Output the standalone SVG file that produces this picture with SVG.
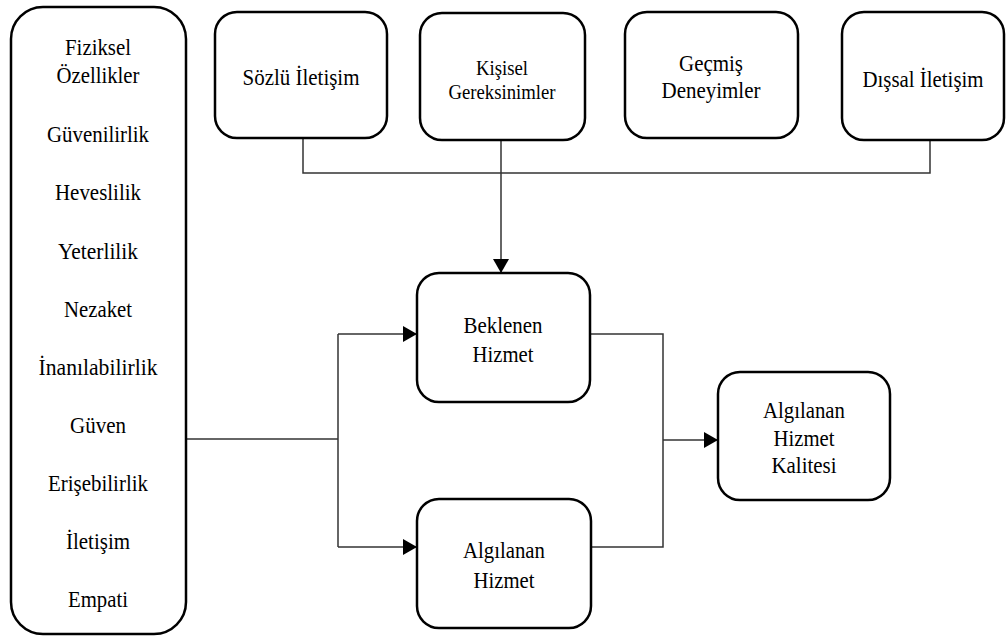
<svg xmlns="http://www.w3.org/2000/svg" width="1007" height="637" viewBox="0 0 1007 637">
  <defs>
    <marker id="arrow" viewBox="0 0 14 16" refX="14" refY="8" markerWidth="14" markerHeight="16" markerUnits="userSpaceOnUse" orient="auto">
      <path d="M0,0 L14,8 L0,16 Z" fill="#000000"/>
    </marker>
  </defs>

  <rect width="1007" height="637" fill="#ffffff"/>

  <!-- connectors -->
  <g id="connectors" fill="none" stroke="#333333" stroke-width="1.5">
    <polyline points="303,138 303,173 930,173 930,140"/>
    <line x1="501" y1="140" x2="501" y2="273" marker-end="url(#arrow)"/>
    <polyline points="186,439 338,439"/>
    <polyline points="338,334 338,547"/>
    <line x1="338" y1="334" x2="417" y2="334" marker-end="url(#arrow)"/>
    <line x1="338" y1="547" x2="417" y2="547" marker-end="url(#arrow)"/>
    <polyline points="590,334 663,334 663,547 591,547"/>
    <line x1="663" y1="440" x2="718" y2="440" marker-end="url(#arrow)"/>
  </g>

  <g id="boyutlar">
    <rect x="11" y="7" width="175" height="627" rx="32" fill="#ffffff" stroke="#000000" stroke-width="2.5"/>
    <text x="98" y="55" font-family="Liberation Serif" font-size="24" text-anchor="middle" textLength="66" lengthAdjust="spacingAndGlyphs">Fiziksel</text>
    <text x="98" y="83" font-family="Liberation Serif" font-size="24" text-anchor="middle" textLength="83" lengthAdjust="spacingAndGlyphs">Özellikler</text>
    <text x="98" y="142" font-family="Liberation Serif" font-size="24" text-anchor="middle" textLength="102" lengthAdjust="spacingAndGlyphs">Güvenilirlik</text>
    <text x="98" y="200" font-family="Liberation Serif" font-size="24" text-anchor="middle" textLength="86" lengthAdjust="spacingAndGlyphs">Heveslilik</text>
    <text x="98" y="259" font-family="Liberation Serif" font-size="24" text-anchor="middle" textLength="80" lengthAdjust="spacingAndGlyphs">Yeterlilik</text>
    <text x="98" y="317" font-family="Liberation Serif" font-size="24" text-anchor="middle" textLength="68" lengthAdjust="spacingAndGlyphs">Nezaket</text>
    <text x="98" y="375" font-family="Liberation Serif" font-size="24" text-anchor="middle" textLength="119" lengthAdjust="spacingAndGlyphs">İnanılabilirlik</text>
    <text x="98" y="433" font-family="Liberation Serif" font-size="24" text-anchor="middle" textLength="56" lengthAdjust="spacingAndGlyphs">Güven</text>
    <text x="98" y="491" font-family="Liberation Serif" font-size="24" text-anchor="middle" textLength="100" lengthAdjust="spacingAndGlyphs">Erişebilirlik</text>
    <text x="98" y="549" font-family="Liberation Serif" font-size="24" text-anchor="middle" textLength="64" lengthAdjust="spacingAndGlyphs">İletişim</text>
    <text x="98" y="607" font-family="Liberation Serif" font-size="24" text-anchor="middle" textLength="60" lengthAdjust="spacingAndGlyphs">Empati</text>
  </g>

  <g id="sozlu-iletisim">
    <rect x="215" y="12" width="172" height="126" rx="22" fill="#ffffff" stroke="#000000" stroke-width="2.5"/>
    <text x="301" y="85" font-family="Liberation Serif" font-size="24" text-anchor="middle" textLength="117" lengthAdjust="spacingAndGlyphs">Sözlü İletişim</text>
  </g>

  <g id="kisisel-gereksinimler">
    <rect x="420" y="13" width="165" height="127" rx="22" fill="#ffffff" stroke="#000000" stroke-width="2.5"/>
    <text x="502" y="75" font-family="Liberation Serif" font-size="21" text-anchor="middle" textLength="52" lengthAdjust="spacingAndGlyphs">Kişisel</text>
    <text x="502" y="99" font-family="Liberation Serif" font-size="21" text-anchor="middle" textLength="107" lengthAdjust="spacingAndGlyphs">Gereksinimler</text>
  </g>

  <g id="gecmis-deneyimler">
    <rect x="625" y="12" width="173" height="126" rx="22" fill="#ffffff" stroke="#000000" stroke-width="2.5"/>
    <text x="711" y="71" font-family="Liberation Serif" font-size="24" text-anchor="middle" textLength="64" lengthAdjust="spacingAndGlyphs">Geçmiş</text>
    <text x="711" y="98" font-family="Liberation Serif" font-size="24" text-anchor="middle" textLength="99" lengthAdjust="spacingAndGlyphs">Deneyimler</text>
  </g>

  <g id="dissal-iletisim">
    <rect x="842" y="12" width="162" height="128" rx="22" fill="#ffffff" stroke="#000000" stroke-width="2.5"/>
    <text x="923" y="87" font-family="Liberation Serif" font-size="24" text-anchor="middle" textLength="121" lengthAdjust="spacingAndGlyphs">Dışsal İletişim</text>
  </g>

  <g id="beklenen-hizmet">
    <rect x="417" y="273" width="173" height="129" rx="22" fill="#ffffff" stroke="#000000" stroke-width="2.5"/>
    <text x="503" y="333" font-family="Liberation Serif" font-size="24" text-anchor="middle" textLength="79" lengthAdjust="spacingAndGlyphs">Beklenen</text>
    <text x="503" y="362" font-family="Liberation Serif" font-size="24" text-anchor="middle" textLength="61" lengthAdjust="spacingAndGlyphs">Hizmet</text>
  </g>

  <g id="algilanan-hizmet">
    <rect x="417" y="499" width="174" height="129" rx="22" fill="#ffffff" stroke="#000000" stroke-width="2.5"/>
    <text x="504" y="558" font-family="Liberation Serif" font-size="24" text-anchor="middle" textLength="82" lengthAdjust="spacingAndGlyphs">Algılanan</text>
    <text x="504" y="588" font-family="Liberation Serif" font-size="24" text-anchor="middle" textLength="61" lengthAdjust="spacingAndGlyphs">Hizmet</text>
  </g>

  <g id="algilanan-hizmet-kalitesi">
    <rect x="718" y="372" width="172" height="128" rx="22" fill="#ffffff" stroke="#000000" stroke-width="2.5"/>
    <text x="804" y="418" font-family="Liberation Serif" font-size="24" text-anchor="middle" textLength="82" lengthAdjust="spacingAndGlyphs">Algılanan</text>
    <text x="804" y="446" font-family="Liberation Serif" font-size="24" text-anchor="middle" textLength="61" lengthAdjust="spacingAndGlyphs">Hizmet</text>
    <text x="804" y="473" font-family="Liberation Serif" font-size="24" text-anchor="middle" textLength="65" lengthAdjust="spacingAndGlyphs">Kalitesi</text>
  </g>
</svg>
